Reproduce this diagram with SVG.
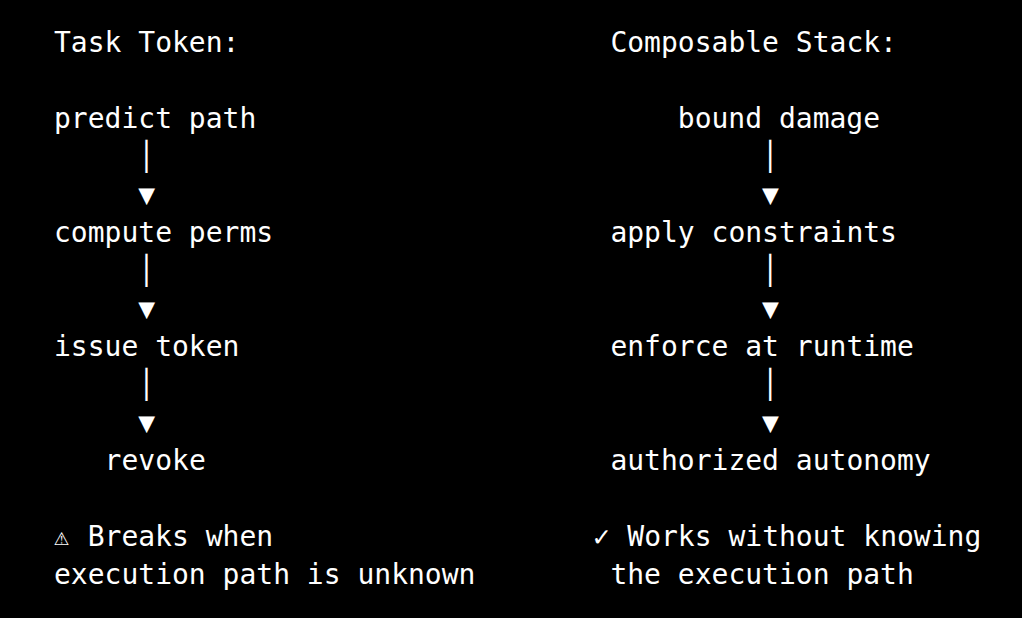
<svg xmlns="http://www.w3.org/2000/svg" width="1022" height="618" viewBox="0 0 1022 618">
<style>
text{font-family:"DejaVu Sans Mono","Liberation Mono",monospace;font-size:28px;fill:#ffffff;white-space:pre}
</style>
<rect width="1022" height="618" fill="#000000"/>
<g id="title-left"><text x="54" y="52">Task Token:</text></g>
<g id="title-right"><text x="610.4" y="52">Composable Stack:</text></g>
<g id="n-predict"><text x="54" y="128">predict path</text></g>
<g id="n-compute"><text x="54" y="242">compute perms</text></g>
<g id="n-issue"><text x="54" y="356">issue token</text></g>
<g id="n-revoke"><text x="104.6" y="470">revoke</text></g>
<g id="n-bound"><text x="677.8" y="128">bound damage</text></g>
<g id="n-apply"><text x="610.4" y="242">apply constraints</text></g>
<g id="n-enforce"><text x="610.4" y="356">enforce at runtime</text></g>
<g id="n-auth"><text x="610.4" y="470">authorized autonomy</text></g>
<g id="connectors">
<text x="138.3" y="166">│</text><text x="138.3" y="204">▼</text>
<text x="138.3" y="280">│</text><text x="138.3" y="318">▼</text>
<text x="138.3" y="394">│</text><text x="138.3" y="432">▼</text>
<text x="762.1" y="166">│</text><text x="762.1" y="204">▼</text>
<text x="762.1" y="280">│</text><text x="762.1" y="318">▼</text>
<text x="762.1" y="394">│</text><text x="762.1" y="432">▼</text>
</g>
<g id="note-left">
<text x="54" y="545" style="font-size:25px">⚠</text><text x="87.7" y="546">Breaks when</text>
<text x="54" y="584">execution path is unknown</text>
</g>
<g id="note-right">
<text x="593" y="546" style="font-size:28px">✓</text><text x="627.3" y="546">Works without knowing</text>
<text x="610.4" y="584">the execution path</text>
</g>
</svg>
